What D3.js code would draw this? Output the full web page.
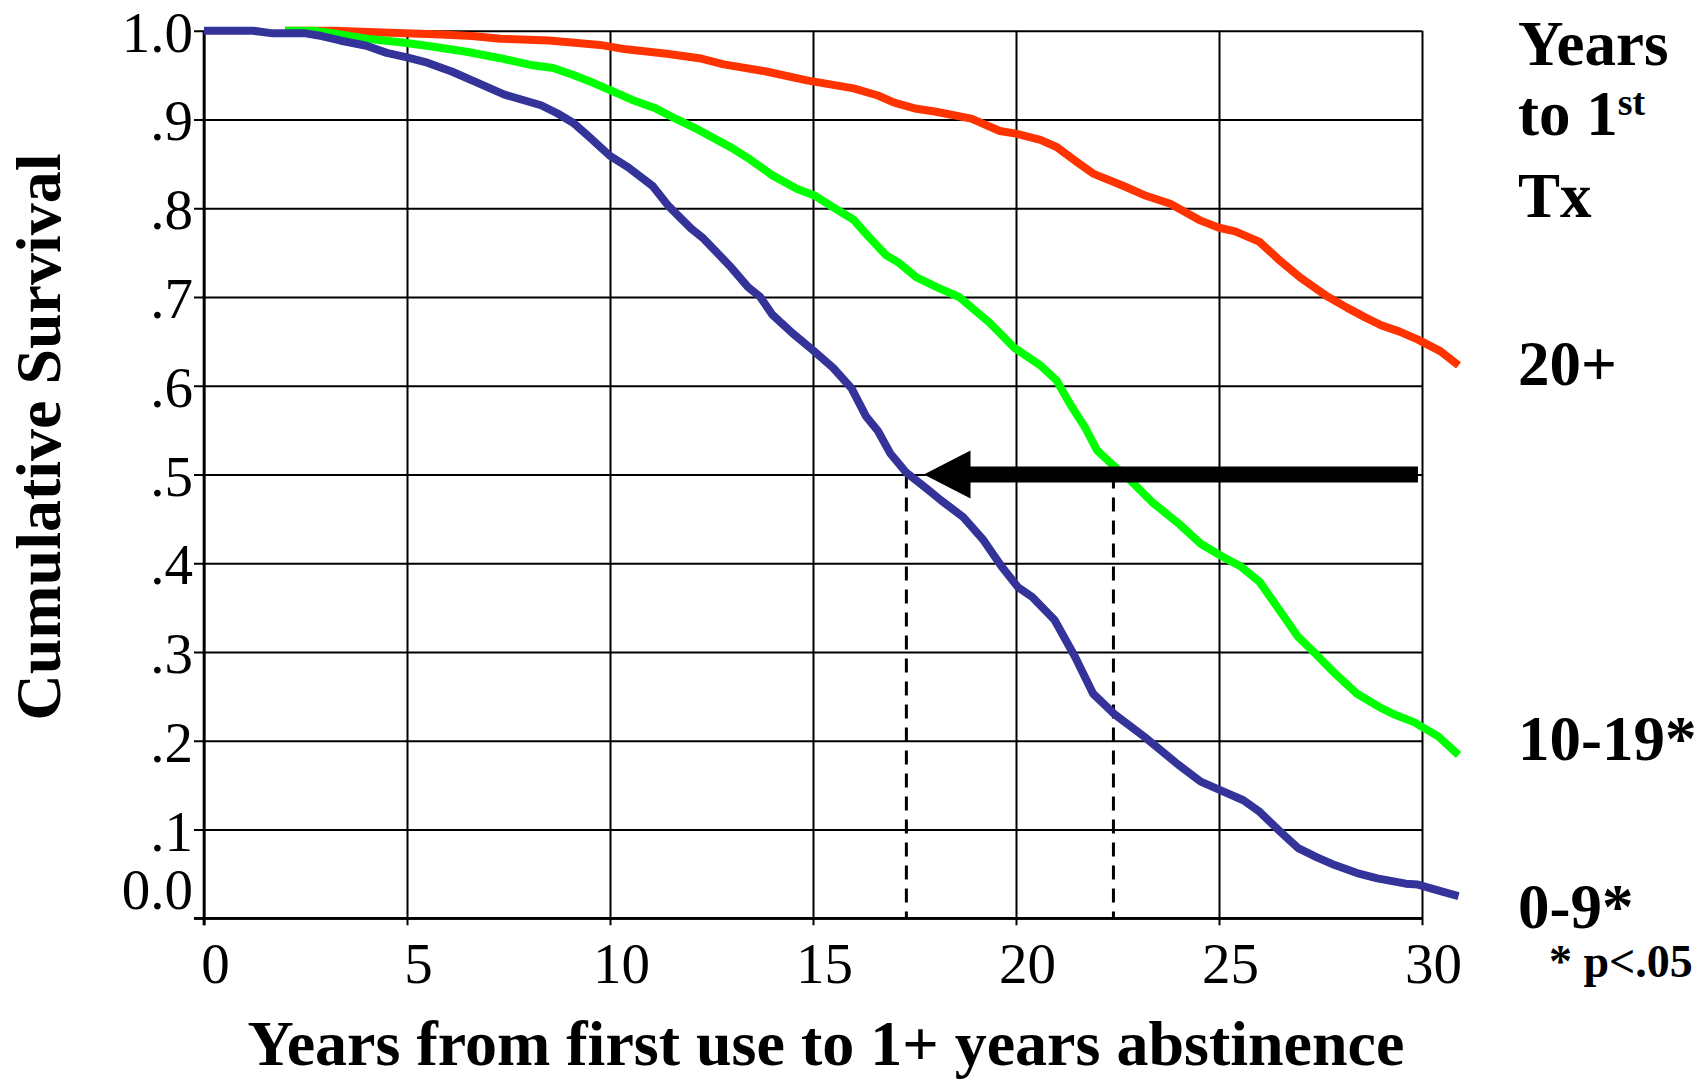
<!DOCTYPE html>
<html>
<head>
<meta charset="utf-8">
<script src="https://cdn.jsdelivr.net/npm/d3@7"></script>
<style>
  html, body { margin: 0; padding: 0; background: #fff; }
  svg { display: block; }
</style>
</head>
<body>
<svg id="chart" width="1702" height="1080"></svg>
<script>
// ---- Data ----
const xTickValues = [0, 5, 10, 15, 20, 25, 30];
const yTickValues = [0, 0.1, 0.2, 0.3, 0.4, 0.5, 0.6, 0.7, 0.8, 0.9, 1.0];
const yTickLabels = ["0.0", ".1", ".2", ".3", ".4", ".5", ".6", ".7", ".8", ".9", "1.0"];

const seriesNames = ["20+", "10-19*", "0-9*"];
const seriesColors = ["#ff3300", "#00ff00", "#333399"];

const years20plus = [2.0,3.2,4.4,5.7,6.6,7.3,8.5,9.75,10.4,11.4,12.2,12.8,13.85,14.85,16.0,16.6,17.0,17.55,18.0,18.9,19.6,20.0,20.6,21.0,21.5,21.9,22.65,23.2,23.8,24.55,25.0,25.4,26.0,26.45,27.0,27.65,28.15,28.6,29.0,29.45,29.9,30.45,30.9];
const surv20plus  = [1.0,1.0,0.998,0.996,0.994,0.991,0.989,0.984,0.979,0.974,0.969,0.962,0.954,0.944,0.935,0.927,0.919,0.912,0.909,0.901,0.887,0.884,0.877,0.869,0.852,0.839,0.825,0.814,0.805,0.786,0.778,0.774,0.762,0.743,0.722,0.701,0.688,0.677,0.668,0.661,0.652,0.639,0.623];

const years10to19 = [2.0,2.7,3.2,4.0,4.85,5.66,6.5,7.3,8.1,8.6,9.1,9.6,10.0,10.55,11.1,11.65,12.15,13.0,13.45,14.0,14.6,15.05,15.5,16.0,16.35,16.8,17.1,17.55,18.1,18.6,19.35,19.95,20.6,21.0,21.35,21.7,22.0,22.4,22.85,23.35,24.0,24.55,25.1,25.55,26.0,26.4,26.95,27.4,27.85,28.4,28.95,29.35,29.8,30.4,30.9];
const surv10to19  = [1.0,1.0,0.997,0.991,0.987,0.982,0.976,0.969,0.961,0.958,0.95,0.941,0.933,0.922,0.913,0.90,0.889,0.868,0.855,0.837,0.822,0.814,0.801,0.787,0.769,0.747,0.739,0.722,0.71,0.70,0.671,0.643,0.623,0.606,0.578,0.553,0.527,0.51,0.492,0.469,0.445,0.422,0.407,0.396,0.379,0.353,0.317,0.297,0.276,0.253,0.238,0.229,0.221,0.205,0.184];

const years0to9 = [0,1.2,1.7,2.5,2.9,3.35,4.0,4.5,5.0,5.5,6.1,6.7,7.4,8.3,8.7,9.1,9.45,10.0,10.45,11.05,11.45,12.0,12.3,12.95,13.4,13.7,14.0,14.5,15.0,15.5,15.95,16.3,16.6,16.9,17.3,17.8,18.15,18.7,19.2,19.65,20.05,20.4,20.95,21.45,21.9,22.45,23.15,24.0,24.55,25.0,25.6,26.0,26.5,26.95,27.4,27.85,28.4,28.9,29.6,29.9,30.5,30.9];
const surv0to9  = [1.0,1.0,0.997,0.997,0.994,0.989,0.983,0.975,0.970,0.964,0.954,0.942,0.928,0.916,0.907,0.896,0.882,0.859,0.846,0.825,0.802,0.777,0.766,0.735,0.711,0.700,0.68,0.659,0.640,0.62,0.597,0.566,0.549,0.524,0.502,0.484,0.471,0.452,0.426,0.396,0.373,0.362,0.336,0.295,0.253,0.229,0.205,0.173,0.154,0.145,0.133,0.12,0.098,0.079,0.069,0.06,0.051,0.045,0.039,0.038,0.03,0.025];

// median markers (years at survival 0.5)
const medianYears = [17.3, 22.4];
const medianLevel = 0.5;
// arrow: from x = 29.9 to tip at 17.73
const arrowFrom = 29.9, arrowHeadBase = 18.88, arrowTip = 17.73;

const xTitle = "Years from first use to 1+ years abstinence";
const yTitle = "Cumulative Survival";

// ---- Layout ----
const svg = d3.select("#chart");
const L = 204, R = 1422, T = 30.7, B = 918.3;
const x = d3.scaleLinear().domain([0, 30]).range([L, R]);
const y = d3.scaleLinear().domain([0, 1]).range([B, T]);
const serif = "'Liberation Serif', 'Times New Roman', Times, serif";

// Horizontal gridlines + y tick labels
const yAxis = d3.axisLeft(y)
  .tickValues(yTickValues)
  .tickFormat((d, i) => yTickLabels[i])
  .tickSize(R - L + 10)
  .tickPadding(1);
const gy = svg.append("g").attr("transform", `translate(${R},0)`).call(yAxis);
gy.select(".domain").remove();
gy.selectAll(".tick line").attr("stroke", "#000").attr("stroke-width", 2);
gy.selectAll(".tick text")
  .attr("font-family", serif).attr("font-size", 57).attr("fill", "#000")
  .attr("dy", d => d === 0 ? "-0.18em" : "0.36em");

// Vertical gridlines + x tick labels
const xAxis = d3.axisBottom(x)
  .tickValues(xTickValues)
  .tickFormat(d3.format("d"))
  .tickSize(B - T + 7)
  .tickPadding(17);
const gx = svg.append("g").attr("transform", `translate(0,${T})`).call(xAxis);
gx.select(".domain").remove();
gx.selectAll(".tick line").attr("stroke", "#000").attr("stroke-width", 2);
gx.selectAll(".tick text")
  .attr("font-family", serif).attr("font-size", 57).attr("fill", "#000")
  .attr("dx", 11);

// Axis lines (left & bottom heavier)
svg.append("line").attr("x1", L).attr("x2", L).attr("y1", T).attr("y2", B + 7)
  .attr("stroke", "#000").attr("stroke-width", 2.7);
svg.append("line").attr("x1", L - 10).attr("x2", R).attr("y1", B).attr("y2", B)
  .attr("stroke", "#000").attr("stroke-width", 2.7);

// Dashed median lines
svg.selectAll(".median").data(medianYears).enter().append("line")
  .attr("x1", d => x(d)).attr("x2", d => x(d))
  .attr("y1", y(medianLevel)).attr("y2", y(0))
  .attr("stroke", "#000").attr("stroke-width", 3)
  .attr("stroke-dasharray", "14,9");

// Survival curves
const line = d3.line().x(d => x(d[0])).y(d => y(d[1]));
const series = [
  d3.zip(years20plus, surv20plus),
  d3.zip(years10to19, surv10to19),
  d3.zip(years0to9, surv0to9)
];
svg.selectAll(".curve").data(series).enter().append("path")
  .attr("d", line)
  .attr("fill", "none")
  .attr("stroke", (d, i) => seriesColors[i])
  .attr("stroke-width", 8)
  .attr("stroke-linejoin", "round");

// Arrow
svg.append("rect")
  .attr("x", x(arrowHeadBase) - 1).attr("y", y(medianLevel) - 8)
  .attr("width", x(arrowFrom) - x(arrowHeadBase) + 1).attr("height", 16)
  .attr("fill", "#000");
svg.append("path")
  .attr("d", `M${x(arrowTip)},${y(medianLevel)} L${x(arrowHeadBase)},${y(medianLevel) - 24} L${x(arrowHeadBase)},${y(medianLevel) + 24} Z`)
  .attr("fill", "#000");

// Axis titles
svg.append("text")
  .attr("x", 826).attr("y", 1065)
  .attr("text-anchor", "middle")
  .attr("font-family", serif).attr("font-weight", "bold").attr("font-size", 64)
  .text(xTitle);
svg.append("text")
  .attr("transform", "translate(60,437) rotate(-90)")
  .attr("text-anchor", "middle")
  .attr("font-family", serif).attr("font-weight", "bold").attr("font-size", 64)
  .text(yTitle);

// Legend on the right
const lx = 1518;
const legend = svg.append("g")
  .attr("font-family", serif).attr("font-weight", "bold").attr("font-size", 63).attr("fill", "#000");
legend.append("text").attr("x", lx).attr("y", 65).text("Years");
const t2 = legend.append("text").attr("x", lx).attr("y", 135);
t2.append("tspan").text("to 1");
t2.append("tspan").attr("font-size", 38).attr("dy", -20).text("st");
legend.append("text").attr("x", lx).attr("y", 217).text("Tx");
const labelY = [385, 760, 928];
seriesNames.forEach((n, i) => {
  legend.append("text").attr("x", lx).attr("y", labelY[i]).text(n);
});
legend.append("text").attr("x", 1549).attr("y", 977).attr("font-size", 46).text("* p<.05");
</script>
</body>
</html>
